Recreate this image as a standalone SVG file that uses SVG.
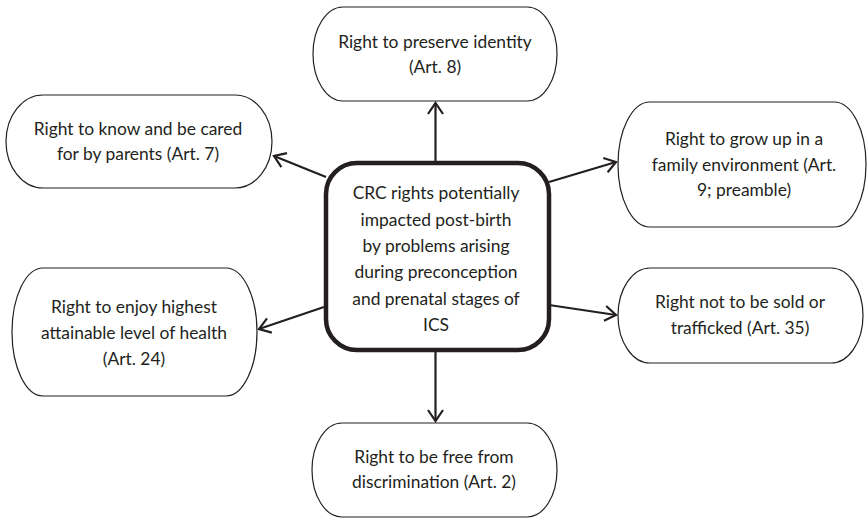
<svg xmlns="http://www.w3.org/2000/svg" width="868" height="519" viewBox="0 0 868 519">
<style>
.node{fill:#fff;stroke:#231f20;stroke-width:1.2}
.center{fill:#fff;stroke:#231f20;stroke-width:4.5}
.conn{stroke:#231f20;stroke-width:2.2;fill:none}
text{font-family:Lato,"Open Sans","Liberation Sans",sans-serif;font-size:17.4px;fill:#231f20;text-anchor:middle}
</style>
<defs>
<marker id="arr" markerUnits="userSpaceOnUse" viewBox="-14 -10 16 20" refX="0" refY="0" markerWidth="16" markerHeight="20" orient="auto" overflow="visible">
<path d="M-11,-7.5 L0,0 L-11,7.5" fill="none" stroke="#231f20" stroke-width="2.2" stroke-linejoin="miter"/>
</marker>
</defs>
<rect width="868" height="519" fill="#fff"/>
<g id="connectors">
<path class="conn" d="M435.5,161 L435.5,103" marker-end="url(#arr)"/>
<path class="conn" d="M326,177 L274,156" marker-end="url(#arr)"/>
<path class="conn" d="M549,182 L616,162" marker-end="url(#arr)"/>
<path class="conn" d="M324,307 L259,329" marker-end="url(#arr)"/>
<path class="conn" d="M549,305 L616,315" marker-end="url(#arr)"/>
<path class="conn" d="M435.5,352 L435.5,421" marker-end="url(#arr)"/>
</g>
<g id="n-center">
<rect class="center" x="326" y="163" width="223" height="187" rx="31" ry="31"/>
<text x="436" y="199">CRC rights potentially</text>
<text x="436" y="225.5">impacted post-birth</text>
<text x="436" y="252">by problems arising</text>
<text x="436" y="278">during preconception</text>
<text x="436" y="304.5">and prenatal stages of</text>
<text x="436" y="331">ICS</text>
</g>
<g id="n-identity">
<rect class="node" x="313" y="7" width="244" height="94" rx="30" ry="47"/>
<text x="435" y="48">Right to preserve identity</text>
<text x="435" y="73">(Art. 8)</text>
</g>
<g id="n-parents">
<rect class="node" x="6" y="95" width="266" height="93" rx="37" ry="46.5"/>
<text x="138" y="135">Right to know and be cared</text>
<text x="138" y="160">for by parents (Art. 7)</text>
</g>
<g id="n-family">
<rect class="node" x="618" y="102" width="248" height="125" rx="32" ry="62.5"/>
<text x="744" y="145">Right to grow up in a</text>
<text x="744" y="170.5">family environment (Art.</text>
<text x="744" y="196">9; preamble)</text>
</g>
<g id="n-health">
<rect class="node" x="12" y="268" width="245" height="128" rx="31" ry="64"/>
<text x="134" y="313">Right to enjoy highest</text>
<text x="134" y="339">attainable level of health</text>
<text x="134" y="365">(Art. 24)</text>
</g>
<g id="n-trafficked">
<rect class="node" x="618" y="268" width="245" height="95" rx="32" ry="47.5"/>
<text x="740" y="308">Right not to be sold or</text>
<text x="740" y="334">trafficked (Art. 35)</text>
</g>
<g id="n-discrimination">
<rect class="node" x="312" y="423" width="245" height="94" rx="30" ry="47"/>
<text x="434" y="463">Right to be free from</text>
<text x="434" y="488">discrimination (Art. 2)</text>
</g>
</svg>
